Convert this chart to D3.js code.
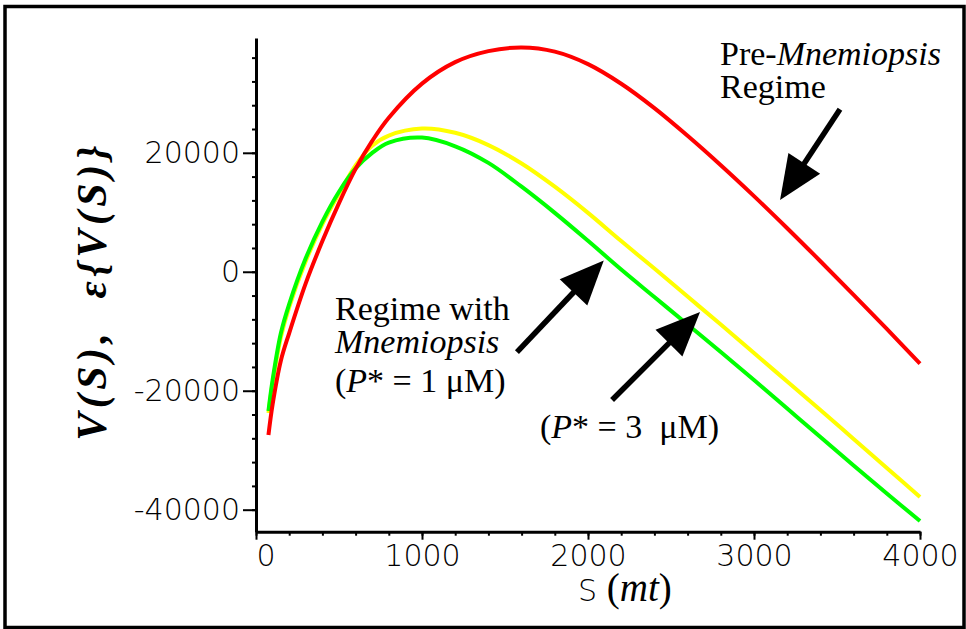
<!DOCTYPE html>
<html>
<head>
<meta charset="utf-8">
<script src="https://d3js.org/d3.v7.min.js"></script>
<style>
  body { margin: 0; background: #fff; }
  svg text { fill: #000; }
</style>
</head>
<body>
<script>
// stock size S (mt)
const stock = [75, 100, 150, 200, 300, 400, 500, 600, 700, 800, 1000, 1200, 1400, 1600,
               1800, 2000, 2200, 2400, 2600, 2800, 3000, 3200, 3400, 3600, 3800, 4000];
// pre-Mnemiopsis regime (red)
const vPre = [-27450, -22300, -14920, -10300, -1900, 5160, 11550, 17290, 22000, 25900, 31630, 35240, 37090, 37710,
              37010, 34910, 31610, 27510, 22860, 17910, 12720, 7320, 1770, -3880, -9610, -15430];
// with Mnemiopsis, P* = 3 uM (yellow)
const vP3 = [-23750, -18700, -10970, -5930, 1800, 8020, 13130, 17900, 21200, 22900, 24070, 23360, 21300, 18200,
             14300, 9900, 5160, 540, -4170, -8870, -13660, -18450, -23240, -28120, -32990, -37870];
// with Mnemiopsis, P* = 1 uM (green)
const vP1 = [-23400, -18200, -10300, -5430, 2300, 8440, 13460, 17380, 19990, 21720, 22560, 21100, 18300, 14300,
             9900, 5200, 370, -4250, -8870, -13500, -18200, -22990, -27780, -32570, -37280, -41900];

const xMajor = [0, 1000, 2000, 3000, 4000];
const yMajor = [-40000, -20000, 0, 20000];

// arrows in data units: [tailS, tailV, tipS, tipV]
const arrows = [
  [3518, 27340, 3157, 12050],
  [1572, -13500, 2095, 1900],
  [2145, -21570, 2675, -6770]
];

const W = 966, H = 629;
const svg = d3.select("body").append("svg")
    .attr("width", W)
    .attr("height", H);

svg.append("rect")
    .attr("x", 5).attr("y", 6.5)
    .attr("width", 959).attr("height", 621)
    .attr("fill", "none")
    .attr("stroke", "#000")
    .attr("stroke-width", 3.5);

const x = d3.scaleLinear().domain([0, 4000]).range([256, 920]);
const y = d3.scaleLinear().domain([-43700, 39300]).range([531.7, 38]);

const tickFont = "'DejaVu Sans', sans-serif";

// minor ticks
svg.append("g")
    .attr("transform", "translate(0,531.7)")
    .call(d3.axisBottom(x).tickValues(d3.range(0, 4001, 200)).tickSize(4).tickSizeOuter(0).tickFormat(""))
    .call(g => g.select(".domain").remove());
svg.append("g")
    .attr("transform", "translate(256,0)")
    .call(d3.axisLeft(y).tickValues(d3.range(-40000, 39000, 4000)).tickSize(4).tickSizeOuter(0).tickFormat(""))
    .call(g => g.select(".domain").remove());

// major ticks + labels
const xAxis = svg.append("g")
    .attr("transform", "translate(0,531.7)")
    .call(d3.axisBottom(x).tickValues(xMajor).tickSize(8).tickSizeOuter(0).tickPadding(5)
        .tickFormat(d => String(d)));
xAxis.selectAll("text")
    .attr("text-anchor", d => d === 0 ? "start" : "middle");

const yAxis = svg.append("g")
    .attr("transform", "translate(256,0)")
    .call(d3.axisLeft(y).tickValues(yMajor).tickSize(13).tickSizeOuter(0).tickPadding(3)
        .tickFormat(d => String(d)));

svg.selectAll(".tick line").attr("stroke", "#000").attr("stroke-width", 2);
svg.selectAll(".domain").attr("stroke", "#000").attr("stroke-width", 3);
svg.selectAll(".tick text")
    .attr("font-family", tickFont)
    .attr("font-weight", 200)
    .attr("font-size", 30);

// curves
const line = d3.line()
    .x((d, i) => x(stock[i]))
    .y(d => y(d))
    .curve(d3.curveCatmullRom.alpha(0.5));

const series = [
  { values: vP3, color: "#ffff00" },
  { values: vP1, color: "#00ff00" },
  { values: vPre, color: "#ff0000" }
];
svg.selectAll("path.curve")
  .data(series)
  .join("path")
    .attr("class", "curve")
    .attr("d", d => line(d.values))
    .attr("fill", "none")
    .attr("stroke", d => d.color)
    .attr("stroke-width", 4);

// arrows
const arrowG = svg.append("g");
arrows.forEach(a => {
  const x0 = x(a[0]), y0 = y(a[1]), x1 = x(a[2]), y1 = y(a[3]);
  const len = Math.hypot(x1 - x0, y1 - y0);
  const ux = (x1 - x0) / len, uy = (y1 - y0) / len;
  const hl = 44, hw = 19;
  const bx = x1 - ux * hl, by = y1 - uy * hl;
  arrowG.append("line")
      .attr("x1", x0).attr("y1", y0)
      .attr("x2", bx + ux * 4).attr("y2", by + uy * 4)
      .attr("stroke", "#000")
      .attr("stroke-width", 5.5);
  arrowG.append("path")
      .attr("d", `M${x1},${y1}L${bx - uy * hw},${by + ux * hw}L${bx + uy * hw},${by - ux * hw}Z`)
      .attr("fill", "#000");
});

// annotation text
const serif = "'Liberation Serif', 'Times New Roman', serif";
function note(px, py, parts) {
  const t = svg.append("text")
      .attr("x", px).attr("y", py)
      .attr("font-family", serif)
      .attr("font-size", 34)
      .attr("xml:space", "preserve");
  parts.forEach(p => {
    t.append("tspan")
        .attr("font-style", p[1] ? "italic" : "normal")
        .text(p[0]);
  });
}
note(720, 65, [["Pre-", false], ["Mnemiopsis", true]]);
note(720, 98, [["Regime", false]]);
note(335, 320, [["Regime with", false]]);
note(335, 353, [["Mnemiopsis", true]]);
note(335, 392, [["(", false], ["P", true], ["* = 1 \u03bcM)", false]]);
note(540, 438, [["(", false], ["P", true], ["* = 3 \u00a0\u03bcM)", false]]);

// x-axis title
const xt = svg.append("text")
    .attr("x", 578).attr("y", 601)
    .attr("xml:space", "preserve");
xt.append("tspan").attr("font-family", tickFont).attr("font-weight", 200).attr("font-size", 30).text("S");
xt.append("tspan").attr("font-family", serif).attr("font-size", 39).text(" (");
xt.append("tspan").attr("font-family", serif).attr("font-size", 39).attr("font-style", "italic").text("mt");
xt.append("tspan").attr("font-family", serif).attr("font-size", 39).text(")");

// y-axis title
svg.append("text")
    .attr("transform", "translate(106,291) rotate(-90)")
    .attr("text-anchor", "middle")
    .attr("font-family", serif)
    .attr("font-size", 42)
    .attr("font-weight", "bold")
    .attr("font-style", "italic")
    .attr("letter-spacing", 4.5)
    .attr("xml:space", "preserve")
    .text("V(S),  \u03b5{V(S)}");
</script>
</body>
</html>
